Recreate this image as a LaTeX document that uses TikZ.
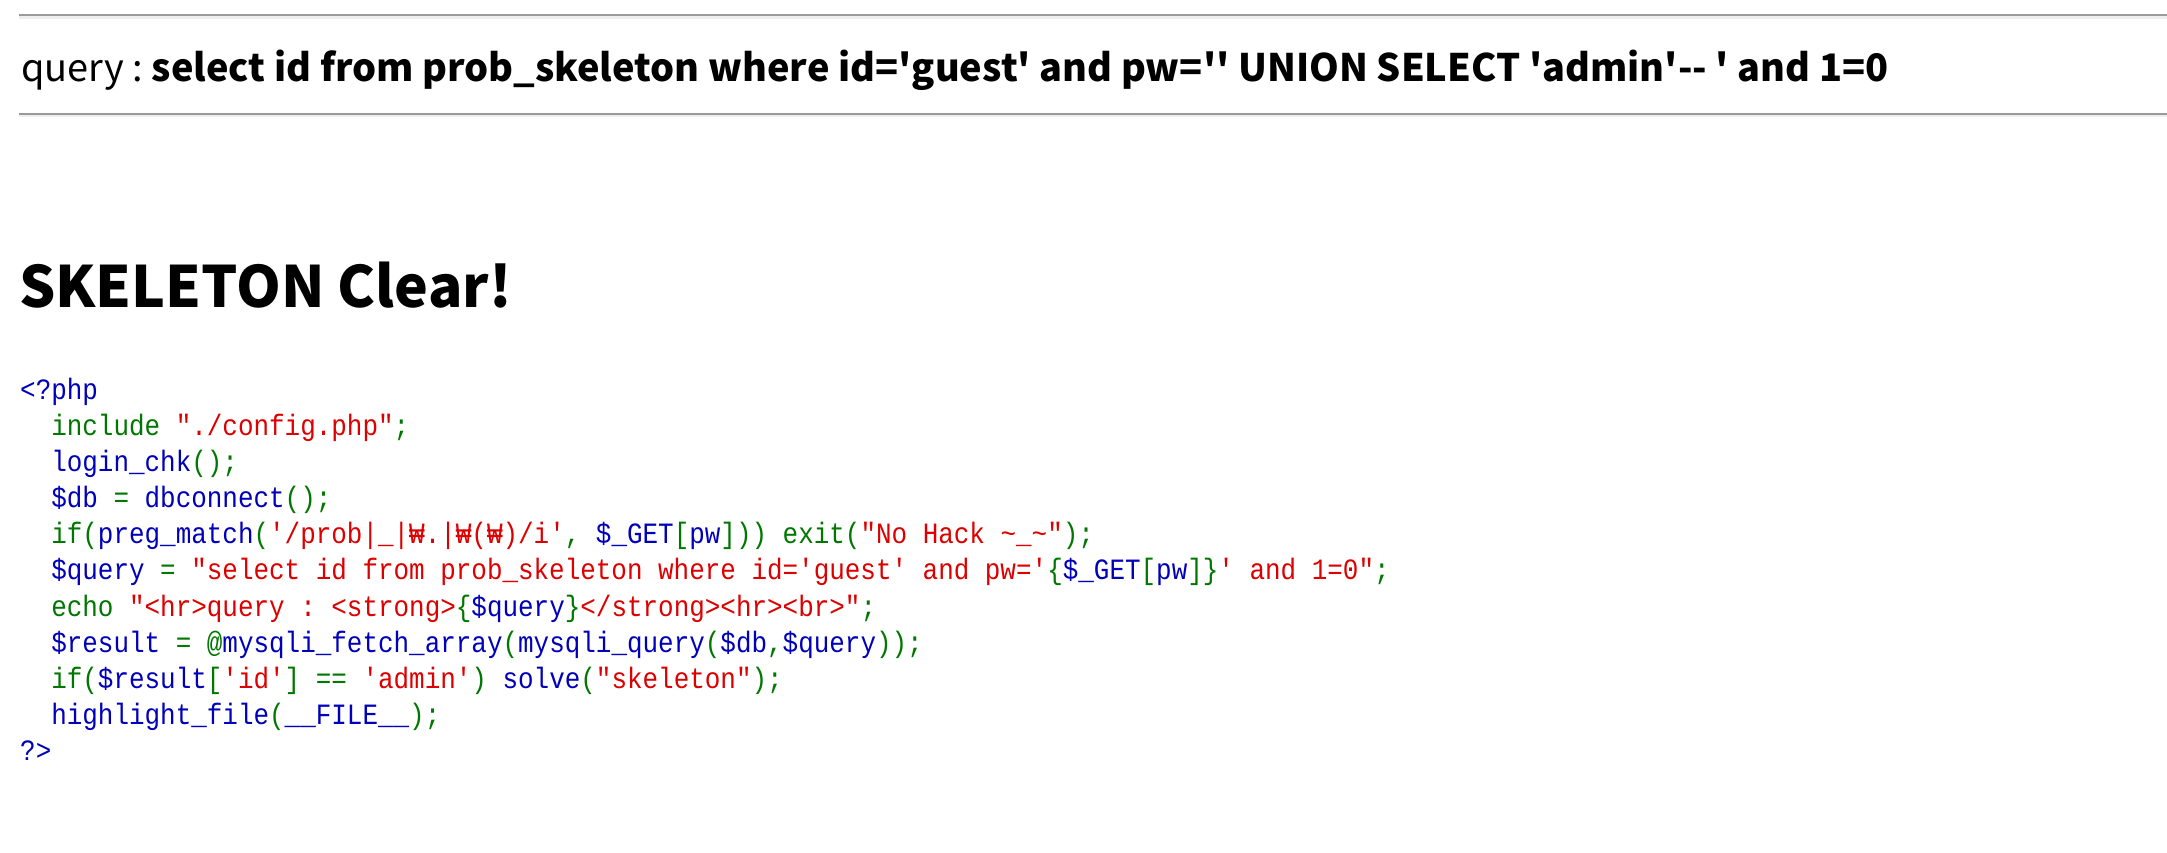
\documentclass[tikz,border=0pt]{standalone}
\usepackage{fontspec}
\setmonofont{Liberation Mono}[Ligatures=TeXOff,FakeStretch=0.88]
\newfontfamily\hdrfont{Noto Sans CJK KR}[Ligatures=TeXOff]
\definecolor{phpblue}{HTML}{0000BB}
\definecolor{phpgreen}{HTML}{007700}
\definecolor{phpred}{HTML}{DD0000}
\definecolor{hrdark}{HTML}{9A9A9A}
\definecolor{hrlight}{HTML}{EEEEEE}
\newcommand\phpB[1]{\textcolor{phpblue}{#1}}
\newcommand\phpG[1]{\textcolor{phpgreen}{#1}}
\newcommand\phpR[1]{\textcolor{phpred}{#1}}
\frenchspacing
\begin{document}
\begin{tikzpicture}[x=1pt,y=1pt,
  codeline/.style={anchor=base west,inner sep=0pt,font=\ttfamily\fontsize{29.47}{34}\selectfont},
  hdrtext/.style={anchor=base west,inner sep=0pt,font=\hdrfont\fontsize{37.9}{44}\selectfont},
  titletext/.style={anchor=base west,inner sep=0pt,font=\hdrfont\bfseries\fontsize{57}{66}\selectfont}]
\useasboundingbox[fill=white] (0,0) rectangle (2167,-853);
% horizontal rules
\fill[hrdark] (19,-14) rectangle (2167,-16.4);
\fill[hrlight] (19,-16.4) rectangle (2167,-18.8);
\fill[hrdark] (19,-112.6) rectangle (2167,-115);
\fill[hrlight] (19,-115) rectangle (2167,-117.4);
% query header
\node[hdrtext] (hdr) at (21,-82) {query : \textbf{select id from prob\_skeleton where id='guest' and pw='' UNION SELECT 'admin'-- ' and 1=0}};
% title
\node[titletext] (title) at (19,-307) {SKELETON Clear!};
% code
\def\lh{36.17}
\node[codeline] (l1) at (20,-399) {\phpB{<?php}};
\node[codeline] (l2) at (51.1,-399-1*\lh) {\phpG{include\ }\phpR{"./config.php"}\phpG{;}};
\node[codeline] (l3) at (51.1,-399-2*\lh) {\phpB{login\_chk}\phpG{();}};
\node[codeline] (l4) at (51.1,-399-3*\lh) {\phpB{\$db}\phpG{\ =\ }\phpB{dbconnect}\phpG{();}};
\node[codeline] (l5) at (51.1,-399-4*\lh) {\phpG{if(}\phpB{preg\_match}\phpG{(}\phpR{'/prob|\_|₩.|₩(₩)/i'}\phpG{,\ }\phpB{\$\_GET}\phpG{[}\phpB{pw}\phpG{]))\ exit(}\phpR{"No Hack \textasciitilde\_\textasciitilde"}\phpG{);}};
\node[codeline] (l6) at (51.1,-399-5*\lh) {\phpB{\$query}\phpG{\ =\ }\phpR{"select id from prob\_skeleton where id='guest' and pw='}\phpG{\{}\phpB{\$\_GET}\phpG{[}\phpB{pw}\phpG{]\}}\phpR{' and 1=0"}\phpG{;}};
\node[codeline] (l7) at (51.1,-399-6*\lh) {\phpG{echo\ }\phpR{"<hr>query : <strong>}\phpG{\{}\phpB{\$query}\phpG{\}}\phpR{</strong><hr><br>"}\phpG{;}};
\node[codeline] (l8) at (51.1,-399-7*\lh) {\phpB{\$result}\phpG{\ =\ @}\phpB{mysqli\_fetch\_array}\phpG{(}\phpB{mysqli\_query}\phpG{(}\phpB{\$db}\phpG{,}\phpB{\$query}\phpG{));}};
\node[codeline] (l9) at (51.1,-399-8*\lh) {\phpG{if(}\phpB{\$result}\phpG{[}\phpR{'id'}\phpG{]\ ==\ }\phpR{'admin'}\phpG{)\ }\phpB{solve}\phpG{(}\phpR{"skeleton"}\phpG{);}};
\node[codeline] (l10) at (51.1,-399-9*\lh) {\phpB{highlight\_file}\phpG{(}\phpB{\_\_FILE\_\_}\phpG{);}};
\node[codeline] (l11) at (20,-399-10*\lh) {\phpB{?>}};
\end{tikzpicture}
\end{document}
